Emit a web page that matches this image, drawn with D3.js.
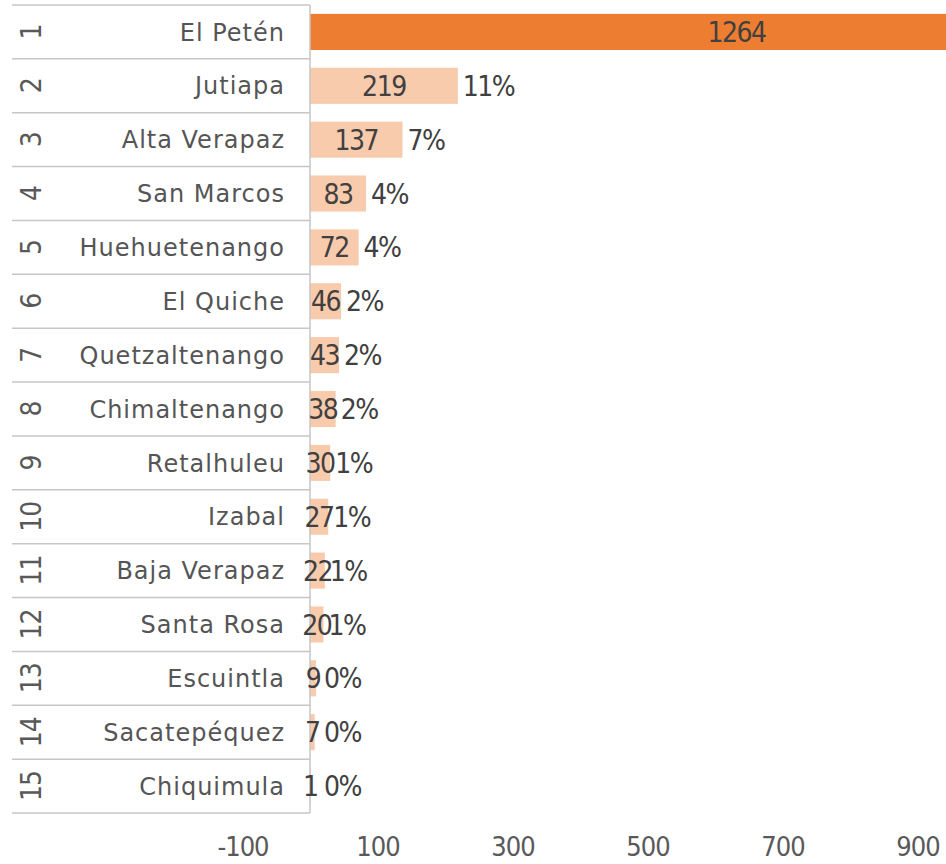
<!DOCTYPE html>
<html>
<head>
<meta charset="utf-8">
<script src="https://cdn.jsdelivr.net/npm/d3@7"></script>
<style>
  html, body { margin: 0; padding: 0; background: #fff; }
  svg { display: block; }
</style>
</head>
<body>
<div id="chart"></div>
<script>
// ranking of departments by case count
const ranks = ["1", "2", "3", "4", "5", "6", "7", "8", "9", "10", "11", "12", "13", "14", "15"];
const departments = ["El Petén", "Jutiapa", "Alta Verapaz", "San Marcos", "Huehuetenango", "El Quiche",
  "Quetzaltenango", "Chimaltenango", "Retalhuleu", "Izabal", "Baja Verapaz", "Santa Rosa",
  "Escuintla", "Sacatepéquez", "Chiquimula"];
const cases = [1264, 219, 137, 83, 72, 46, 43, 38, 30, 27, 22, 20, 9, 7, 1];
const shares = ["", "11%", "7%", "4%", "4%", "2%", "2%", "2%", "1%", "1%", "1%", "1%", "0%", "0%", "0%"];
const xTicks = [-100, 100, 300, 500, 700, 900];

const width = 946, height = 864;
const gridLeft = 12;
const numFont = '"DejaVu Sans Condensed", "DejaVu Sans", sans-serif';
const catFont = '"DejaVu Sans", sans-serif';

const svg = d3.select('#chart').append('svg')
  .attr('width', width)
  .attr('height', height);

const x = d3.scaleLinear().domain([-100, 900]).range([242.5, 917.5]);
const y = d3.scaleBand().domain(departments).range([5, 813])
  .paddingInner(0.33).paddingOuter(0.165);
const step = y.step();
const rowTop = i => 5 + i * step;

// bars
svg.append('g')
  .selectAll('rect')
  .data(departments)
  .join('rect')
  .attr('x', x(0))
  .attr('y', d => y(d))
  .attr('width', (d, i) => x(cases[i]) - x(0))
  .attr('height', y.bandwidth())
  .attr('fill', (d, i) => i === 0 ? '#ED7D31' : '#F8CBAD');

// table grid for the two-level category axis
const grid = svg.append('g').attr('stroke', '#C6C6C6').attr('stroke-width', 1.5);
grid.selectAll('line.h')
  .data(d3.range(departments.length + 1))
  .join('line')
  .attr('class', 'h')
  .attr('x1', gridLeft).attr('x2', x(0))
  .attr('y1', i => rowTop(i)).attr('y2', i => rowTop(i));
grid.append('line')
  .attr('x1', x(0)).attr('x2', x(0))
  .attr('y1', rowTop(0)).attr('y2', rowTop(departments.length));

// rank numbers, rotated
svg.append('g')
  .selectAll('text')
  .data(departments)
  .join('text')
  .attr('transform', (d, i) => `translate(31,${y(d) + y.bandwidth() / 2}) rotate(-90)`)
  .attr('text-anchor', 'middle')
  .attr('dy', '0.36em')
  .style('font-family', numFont)
  .style('font-size', '28px')
  .style('letter-spacing', '-1px')
  .attr('fill', '#595959')
  .text((d, i) => ranks[i]);

// department names
svg.append('g')
  .selectAll('text')
  .data(departments)
  .join('text')
  .attr('x', 285)
  .attr('y', d => y(d) + y.bandwidth() / 2)
  .attr('dy', '0.36em')
  .attr('text-anchor', 'end')
  .style('font-family', catFont)
  .style('font-size', '24px')
  .style('letter-spacing', '1px')
  .attr('fill', '#555555')
  .text(d => d);

// value labels centred in bars
svg.append('g')
  .selectAll('text')
  .data(departments)
  .join('text')
  .attr('x', (d, i) => (x(0) + x(cases[i])) / 2)
  .attr('y', d => y(d) + y.bandwidth() / 2)
  .attr('dy', '0.36em')
  .attr('text-anchor', 'middle')
  .style('font-family', numFont)
  .style('font-size', '28px')
  .style('letter-spacing', '-1.5px')
  .attr('fill', '#404040')
  .text((d, i) => cases[i]);

// share labels after bars
svg.append('g')
  .selectAll('text')
  .data(departments)
  .join('text')
  .attr('x', (d, i) => Math.max(x(cases[i]) + 5, x(0) + 14))
  .attr('y', d => y(d) + y.bandwidth() / 2)
  .attr('dy', '0.36em')
  .style('font-family', numFont)
  .style('font-size', '28px')
  .style('letter-spacing', '-1.5px')
  .attr('fill', '#404040')
  .text((d, i) => shares[i]);

// value axis
const axis = svg.append('g')
  .attr('transform', 'translate(0,813)')
  .call(d3.axisBottom(x).tickValues(xTicks).tickSize(0).tickPadding(24).tickFormat(d => String(d)));
axis.select('.domain').remove();
axis.selectAll('text')
  .style('font-family', numFont)
  .style('font-size', '27px')
  .style('letter-spacing', '-1px')
  .attr('fill', '#595959');
</script>
</body>
</html>
